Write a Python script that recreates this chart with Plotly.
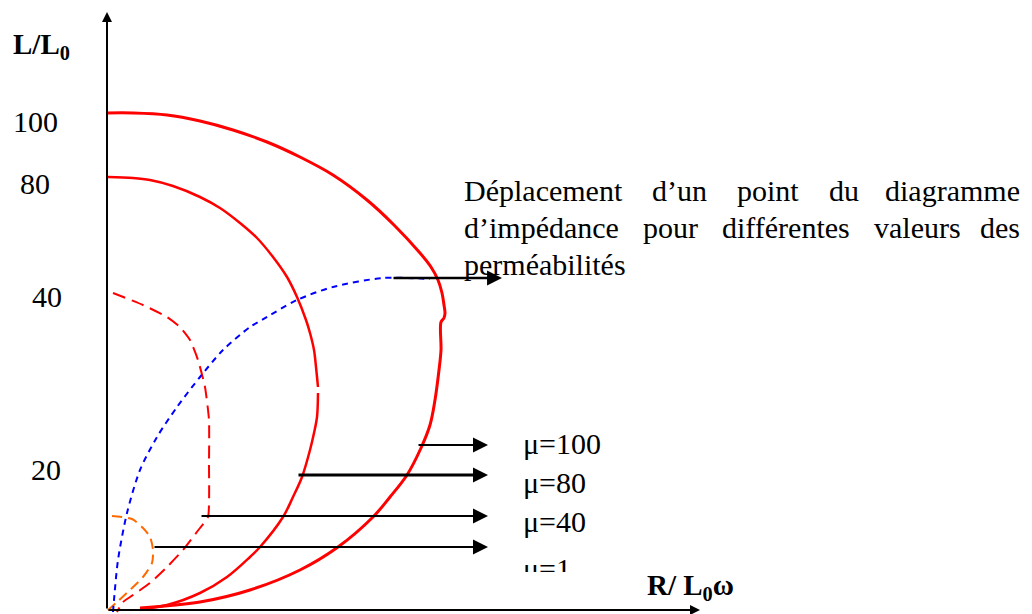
import plotly.graph_objects as go

# Schematic units: origin at the corner of the two axes (R/L0w to the right, L/L0 upward)

# mu = 100 locus (outer solid curve)
mu100_x = [0, 26, 60, 93, 126, 160, 193, 226, 260, 287, 313, 324, 331, 335, 337, 338, 337, 334,
           334, 332, 328, 323, 314, 300, 283, 266, 231, 193, 143, 93, 33]
mu100_y = [497, 497, 495, 489, 480, 468, 453, 435, 410, 385, 357, 343, 330, 317, 305, 297, 292, 288,
           260, 240, 210, 185, 162, 135, 113, 93, 63, 40, 20, 8, 2]

# mu = 80 locus (inner solid curve, small break on its right side)
mu80_x = [1, 26, 43, 66, 93, 113, 133, 150, 166, 180, 190, 199, 203, 207, 209, 211, None,
          211, 210, 207, 203, 195, 186, 176, 153, 143, 120, 93, 60, 33]
mu80_y = [433, 432, 430, 424, 413, 402, 387, 372, 353, 333, 313, 290, 277, 260, 243, 223, None,
          217, 193, 177, 160, 133, 113, 93, 63, 53, 33, 17, 5, 1]

# mu = 40 locus (long dashes)
mu40_x = [6, 36, 60, 73, 83, 91, 98, 102, 102, 101, 93, 86, 76, 60, 43, 26, 16, 10]
mu40_y = [317, 305, 293, 283, 270, 250, 223, 190, 147, 93, 82, 73, 60, 43, 27, 15, 8, -2]

# mu = 1 locus (orange dashes)
mu1_x = [5, 25, 36, 43, 46, 45, 36, 23, 10, -2]
mu1_y = [94, 91, 82, 73, 60, 47, 33, 20, 8, -3]

# path of one point of the diagram as mu changes (blue dashes)
path_x = [6, 7, 11, 20, 33, 50, 70, 93, 116, 143, 155, 190, 226, 276, 323]
path_y = [-2, 10, 50, 97, 140, 173, 203, 233, 260, 283, 290, 310, 323, 332, 331]

# pointer arrows: tail x, head x, height
ptr_labels = ["\u03bc=100", "\u03bc=80", "\u03bc=40", "\u03bc=1"]
ptr_tail_x = [310, 190, 93, 46]
ptr_head_x = [381, 381, 381, 381]
ptr_y = [165, 135, 94, 63]
ptr_width = [2, 3, 2, 2.2]
label_x = [416, 416, 416, 416]
label_y = [164, 125, 86, 39]

# arrow pointing to the caption
cap_tail = (285, 332)
cap_head = (395, 332)

# axis arrows
x_axis_end = 593
y_axis_end = 598

# y tick labels
ytick_text = ["100", "80", "40", "20"]
ytick_x = [-72, -72, -60, -61]
ytick_y = [489, 426.5, 314, 141]

# caption, justified over two lines plus a short last line
cap_line1 = ["D\u00e9placement", "d\u2019un", "point", "du", "diagramme"]
cap_line2 = ["d\u2019imp\u00e9dance", "pour", "diff\u00e9rentes", "valeurs", "des"]
cap_line3 = ["perm\u00e9abilit\u00e9s"]
cap_left, cap_right = 355, 915
cap_rows_y = [420, 383, 346]
CAP_SIZE = 30

SERIF = "Liberation Serif, Times New Roman, serif"

fig = go.Figure()

fig.add_trace(go.Scatter(x=mu100_x, y=mu100_y, mode="lines",
                         line=dict(color="#ff0000", width=3, shape="spline", smoothing=1.0)))
fig.add_trace(go.Scatter(x=mu80_x, y=mu80_y, mode="lines",
                         line=dict(color="#ff0000", width=2.5, shape="spline", smoothing=1.0)))
fig.add_trace(go.Scatter(x=mu40_x, y=mu40_y, mode="lines",
                         line=dict(color="#ff0000", width=2, dash="13px,7px", shape="spline", smoothing=0.5)))
fig.add_trace(go.Scatter(x=mu1_x, y=mu1_y, mode="lines",
                         line=dict(color="#ff6a00", width=2, dash="10px,6px", shape="spline", smoothing=0.7)))
fig.add_trace(go.Scatter(x=path_x, y=path_y, mode="lines",
                         line=dict(color="#0000ff", width=2, dash="6px,5px", shape="spline", smoothing=0.8)))

# mu labels as a text trace so the lowest one can be partly masked
fig.add_trace(go.Scatter(x=label_x, y=label_y, mode="text", text=ptr_labels,
                         textposition="middle right",
                         textfont=dict(family=SERIF, size=30, color="black")))

annotations = []


def arrow(x0, y0, x1, y1, width=2, size=1.0):
    annotations.append(dict(x=x1, y=y1, ax=x0, ay=y0, xref="x", yref="y", axref="x", ayref="y",
                            text="", showarrow=True, arrowhead=2, arrowsize=size,
                            arrowwidth=width, arrowcolor="black", standoff=0))


# axes
arrow(0, 0, 0, y_axis_end, width=2, size=1.0)
arrow(0, 0, x_axis_end, 0, width=2, size=1.0)

# pointers
for tx, hx, py, w in zip(ptr_tail_x, ptr_head_x, ptr_y, ptr_width):
    arrow(tx, py, hx, py, width=w, size=1.5 * 2 / w)
arrow(cap_tail[0], cap_tail[1], cap_head[0], cap_head[1], width=2.3, size=1.3)

# y tick labels
for t, x, y in zip(ytick_text, ytick_x, ytick_y):
    annotations.append(dict(x=x, y=y, xref="x", yref="y", text=t, showarrow=False,
                            xanchor="center", yanchor="middle",
                            font=dict(family=SERIF, size=30, color="black")))

# axis titles
annotations.append(dict(x=-66, y=564, xref="x", yref="y", text="<b>L/L<sub>0</sub></b>",
                        showarrow=False, xanchor="center", yanchor="middle",
                        font=dict(family=SERIF, size=29, color="black")))
annotations.append(dict(x=538, y=23, xref="x", yref="y", text="<b>R/ L<sub>0</sub>\u03c9</b>",
                        showarrow=False, xanchor="left", yanchor="middle",
                        font=dict(family=SERIF, size=29, color="black")))


# caption: words spread between the left and right margins
def word_width(w, size=CAP_SIZE):
    # approximate Times advance widths in em
    table = {"D": .722, "\u00e9": .444, "e": .444, "p": .5, "l": .278, "a": .444, "c": .444,
             "m": .778, "n": .5, "t": .278, "d": .5, "\u2019": .333, "u": .5, "o": .5, "i": .278,
             "g": .5, "r": .333, "s": .389, "v": .5, "f": .333, "b": .5}
    return sum(table.get(ch, .5) for ch in w) * size


for words, y in zip([cap_line1, cap_line2], cap_rows_y[:2]):
    widths = [word_width(w) for w in words]
    gap = (cap_right - cap_left - sum(widths)) / (len(words) - 1)
    x = cap_left
    for i, (w, wd) in enumerate(zip(words, widths)):
        last = i == len(words) - 1
        annotations.append(dict(x=cap_right if last else x, y=y, xref="x", yref="y", text=w,
                                showarrow=False, xanchor="right" if last else "left",
                                yanchor="middle",
                                font=dict(family=SERIF, size=CAP_SIZE, color="black")))
        x += wd + gap
annotations.append(dict(x=cap_left, y=cap_rows_y[2], xref="x", yref="y", text=cap_line3[0],
                        showarrow=False, xanchor="left", yanchor="middle",
                        font=dict(family=SERIF, size=CAP_SIZE, color="black")))

fig.update_layout(
    width=1032, height=614,
    margin=dict(l=0, r=0, t=0, b=0),
    paper_bgcolor="white", plot_bgcolor="white",
    showlegend=False,
    annotations=annotations,
    shapes=[dict(type="rect", xref="x", yref="y", x0=405, x1=480, y0=8, y1=38,
                 fillcolor="white", line=dict(width=0), layer="above")],
    xaxis=dict(range=[-107, 925], visible=False, fixedrange=True),
    yaxis=dict(range=[-4, 610], visible=False, fixedrange=True),
)

fig.write_html("out.html")
